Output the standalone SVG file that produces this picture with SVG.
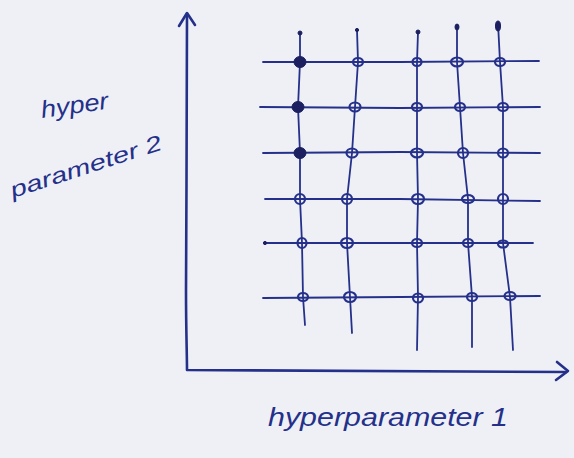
<svg xmlns="http://www.w3.org/2000/svg" width="574" height="458" viewBox="0 0 574 458">
<style>
.ink{stroke:#25308a;fill:none;stroke-linecap:round;stroke-linejoin:round}
.ax{stroke-width:2.6}
.gl{stroke-width:1.8}
.pt{stroke:#25308a;stroke-width:2.2;fill:none}
.fp{fill:#1c2060;stroke:#1c2060;stroke-width:1}
.lbl{font-family:"Liberation Sans","DejaVu Sans",sans-serif;font-style:italic;fill:#25308a}
</style>
<rect width="574" height="458" fill="#eef0f5"/>
<g id="axes">
<path class="ink ax" d="M187,14 C186,80 187,200 186,290 C186,330 187,355 187,370 L566,372"/>
<path class="ink ax" d="M179,26 L187,13 L195,25"/>
<path class="ink ax" d="M557,362 L568,371 L556,380"/>
</g>
<g id="grid-horizontal">
<path class="ink gl" d="M263,62 L400,62 L539,61"/>
<path class="ink gl" d="M260,107 L400,108 L540,107"/>
<path class="ink gl" d="M263,153 L400,152 L540,153"/>
<path class="ink gl" d="M265,199 L400,199 L540,201"/>
<path class="ink gl" d="M265,243 L400,243 L533,243"/>
<path class="ink gl" d="M263,298 L400,297 L540,296"/>
</g>
<g id="grid-vertical">
<path class="ink gl" d="M300,33 L300,62 L298,107 L300,153 L300,199 L302,243 L303,297 L305,325"/>
<path class="ink gl" d="M357,30 L358,62 L355,107 L352,153 L347,199 L347,243 L350,297 L352,333"/>
<path class="ink gl" d="M418,32 L417,62 L417,107 L417,153 L418,199 L417,243 L418,297 L417,350"/>
<path class="ink gl" d="M457,26 L457,62 L460,107 L463,153 L468,199 L468,243 L472,297 L472,347"/>
<path class="ink gl" d="M498,23 L500,62 L503,107 L503,153 L503,199 L503,243 L510,297 L513,350"/>
</g>
<g id="tips">
<circle class="fp" cx="300" cy="33" r="2"/>
<circle class="fp" cx="357" cy="30" r="1.6"/>
<circle class="fp" cx="418" cy="32" r="2"/>
<ellipse class="fp" cx="457" cy="27" rx="2" ry="3"/>
<ellipse class="fp" cx="498" cy="26" rx="2.5" ry="5"/>
<circle class="fp" cx="265" cy="243" r="1.6"/>
</g>
<g id="points">
<ellipse class="fp" cx="300" cy="62" rx="6" ry="5.5"/>
<ellipse class="fp" cx="298" cy="107" rx="6" ry="5.5"/>
<ellipse class="fp" cx="300" cy="153" rx="6" ry="5.5"/>
<ellipse class="pt" cx="358" cy="62" rx="5" ry="4"/>
<ellipse class="pt" cx="417" cy="62" rx="4.5" ry="4"/>
<ellipse class="pt" cx="457" cy="62" rx="6" ry="4.5"/>
<ellipse class="pt" cx="500" cy="62" rx="5" ry="4"/>
<ellipse class="pt" cx="355" cy="107" rx="5.5" ry="4.5"/>
<ellipse class="pt" cx="417" cy="107" rx="5" ry="4"/>
<ellipse class="pt" cx="460" cy="107" rx="5" ry="4"/>
<ellipse class="pt" cx="503" cy="107" rx="5" ry="4"/>
<ellipse class="pt" cx="352" cy="153" rx="5.5" ry="4.5"/>
<ellipse class="pt" cx="417" cy="153" rx="6" ry="4.5"/>
<ellipse class="pt" cx="463" cy="153" rx="5" ry="5"/>
<ellipse class="pt" cx="503" cy="153" rx="5" ry="4.5"/>
<ellipse class="pt" cx="300" cy="199" rx="5" ry="5"/>
<ellipse class="pt" cx="347" cy="199" rx="5" ry="5"/>
<ellipse class="pt" cx="418" cy="199" rx="6" ry="5"/>
<ellipse class="pt" cx="468" cy="199" rx="6" ry="4"/>
<ellipse class="pt" cx="503" cy="199" rx="5" ry="5"/>
<ellipse class="pt" cx="302" cy="243" rx="4.5" ry="5"/>
<ellipse class="pt" cx="347" cy="243" rx="6" ry="5"/>
<ellipse class="pt" cx="417" cy="243" rx="5" ry="4"/>
<ellipse class="pt" cx="468" cy="243" rx="5" ry="4"/>
<ellipse class="pt" cx="503" cy="244" rx="5" ry="3.5"/>
<ellipse class="pt" cx="303" cy="297" rx="5" ry="4"/>
<ellipse class="pt" cx="350" cy="297" rx="6" ry="5"/>
<ellipse class="pt" cx="418" cy="298" rx="5" ry="4.5"/>
<ellipse class="pt" cx="472" cy="297" rx="5" ry="4"/>
<ellipse class="pt" cx="510" cy="296" rx="5.5" ry="4"/>
</g>
<g id="labels">
<text class="lbl" x="42" y="118" font-size="24" transform="rotate(-8 42 118)" textLength="68" lengthAdjust="spacingAndGlyphs">hyper</text>
<text class="lbl" x="13" y="198" font-size="22" transform="rotate(-18 13 198)" textLength="158" lengthAdjust="spacingAndGlyphs">parameter 2</text>
<text class="lbl" x="268" y="426" font-size="25" textLength="240" lengthAdjust="spacingAndGlyphs">hyperparameter 1</text>
</g>
</svg>
